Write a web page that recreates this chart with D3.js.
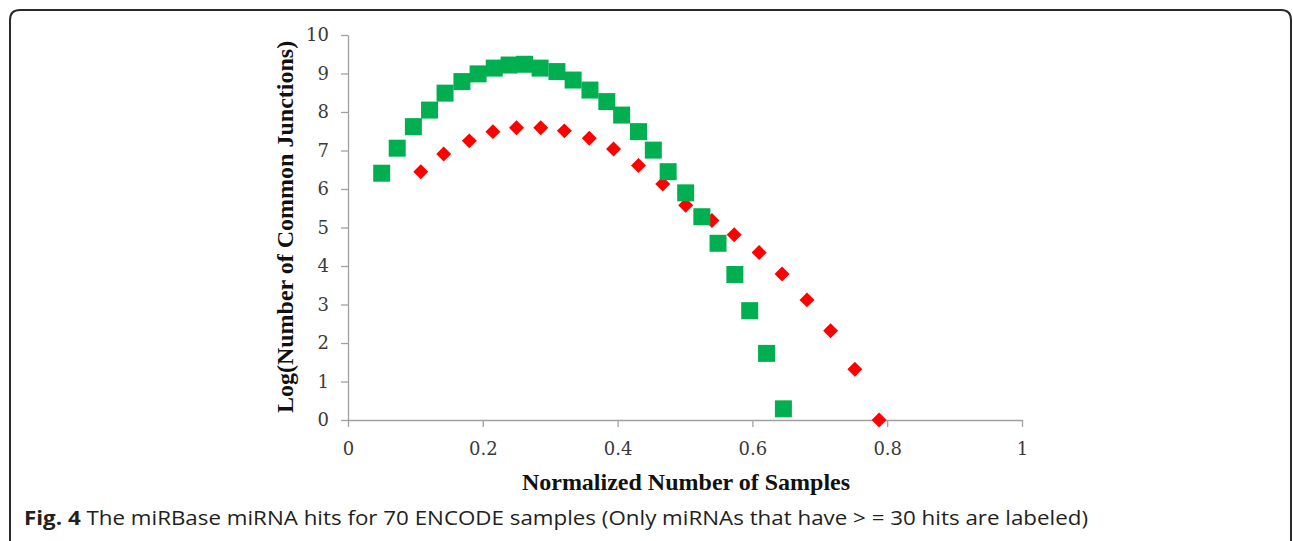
<!DOCTYPE html>
<html>
<head>
<meta charset="utf-8">
<script src="https://cdn.jsdelivr.net/npm/d3@7/dist/d3.min.js"></script>
<style>
  body { margin: 0; background: #fff; }
  svg { display: block; }
  .tick text { font-family: "DejaVu Serif", serif; font-size: 18px; fill: #3a3a3a; }
  .axis-title { font-family: "Liberation Serif", serif; font-weight: bold; font-size: 24px; fill: #111; }
  .caption { font-family: "Open Sans", sans-serif; font-size: 20px; fill: #231f20; }
</style>
</head>
<body>
<svg id="chart" width="1293" height="541"></svg>
<script>
// green squares series
const greenX = [0.050, 0.073, 0.097, 0.121, 0.144, 0.169, 0.193, 0.217, 0.239, 0.262,
                0.285, 0.310, 0.334, 0.359, 0.384, 0.406, 0.431, 0.453, 0.475, 0.501,
                0.525, 0.549, 0.574, 0.596, 0.621, 0.646];
const greenY = [6.41, 7.06, 7.62, 8.05, 8.49, 8.79, 8.99, 9.14, 9.22, 9.24,
                9.14, 9.05, 8.83, 8.57, 8.27, 7.92, 7.49, 7.01, 6.45, 5.90,
                5.28, 4.59, 3.78, 2.84, 1.73, 0.29];
// red diamonds series
const redX = [0.108, 0.142, 0.180, 0.215, 0.250, 0.286, 0.321, 0.358, 0.394, 0.431,
              0.467, 0.501, 0.540, 0.573, 0.610, 0.644, 0.681, 0.716, 0.752, 0.788];
const redY = [6.45, 6.91, 7.25, 7.49, 7.59, 7.59, 7.51, 7.32, 7.04, 6.61,
              6.13, 5.58, 5.18, 4.81, 4.35, 3.79, 3.12, 2.32, 1.32, 0];

const xTicks = [0, 0.2, 0.4, 0.6, 0.8, 1];
const yTicks = [0, 1, 2, 3, 4, 5, 6, 7, 8, 9, 10];
const xTitle = "Normalized Number of Samples";
const yTitle = "Log(Number of Common Junctions)";
const captionBold = "Fig. 4";
const captionText = " The miRBase miRNA hits for 70 ENCODE samples (Only miRNAs that have > = 30 hits are labeled)";

const svg = d3.select("#chart");

// rounded frame around the figure
svg.append("path")
   .attr("d", "M10,560 L10,20 Q10,10 20,10 L1281,10 Q1291,10 1291,20 L1291,560")
   .attr("fill", "none")
   .attr("stroke", "#2a2a2a")
   .attr("stroke-width", 2);

const x = d3.scaleLinear().domain([0, 1]).range([348, 1022]);
const y = d3.scaleLinear().domain([0, 10]).range([420, 35]);

const xAxis = svg.append("g")
   .attr("transform", `translate(0,${y(0)})`)
   .call(d3.axisBottom(x).tickValues(xTicks).tickFormat(d3.format("")).tickSize(7).tickPadding(15).tickSizeOuter(0));

const yAxis = svg.append("g")
   .attr("transform", `translate(${x(0)},0)`)
   .call(d3.axisLeft(y).tickValues(yTicks).tickSize(7).tickPadding(12).tickSizeOuter(0));

[xAxis, yAxis].forEach(g => {
  g.select(".domain").attr("stroke", "#a0a0a0").attr("stroke-width", 1.3);
  g.selectAll(".tick line").attr("stroke", "#a0a0a0").attr("stroke-width", 1.3);
});

svg.append("text")
   .attr("class", "axis-title")
   .attr("x", 686)
   .attr("y", 490)
   .attr("text-anchor", "middle")
   .text(xTitle);

svg.append("text")
   .attr("class", "axis-title")
   .attr("transform", "translate(293,227) rotate(-90)")
   .attr("text-anchor", "middle")
   .text(yTitle);

// red diamonds first, green squares drawn over them
const diamond = d3.symbol().type(d3.symbolSquare).size(112);
svg.append("g").selectAll("path")
   .data(d3.zip(redX, redY))
   .join("path")
   .attr("d", diamond)
   .attr("transform", d => `translate(${x(d[0])},${y(d[1])}) rotate(45)`)
   .attr("fill", "#ff0000");

const square = d3.symbol().type(d3.symbolSquare).size(17 * 17);
svg.append("g").selectAll("path")
   .data(d3.zip(greenX, greenY))
   .join("path")
   .attr("d", square)
   .attr("transform", d => `translate(${x(d[0])},${y(d[1])})`)
   .attr("fill", "#00b050");

const cap = svg.append("text")
   .attr("class", "caption")
   .attr("x", 24)
   .attr("y", 525)
   .attr("textLength", 1064)
   .attr("lengthAdjust", "spacingAndGlyphs");
cap.append("tspan").attr("font-weight", "bold").text(captionBold);
cap.append("tspan").text(captionText);
</script>
</body>
</html>
